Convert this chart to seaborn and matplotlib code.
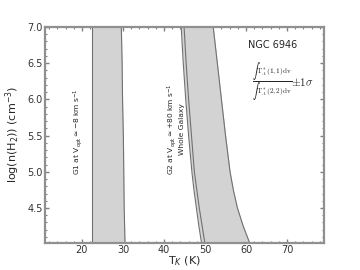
import matplotlib
matplotlib.use("Agg")
import matplotlib.pyplot as plt
import seaborn as sns
import numpy as np
import pandas as pd
from matplotlib.ticker import MultipleLocator

logn = [4.0, 4.25, 4.5, 4.75, 5.0, 5.5, 6.0, 6.5, 7.0]
g1_left = [22.4, 22.4, 22.4, 22.4, 22.4, 22.4, 22.4, 22.4, 22.4]
g1_right = [30.5, 30.4, 30.3, 30.25, 30.2, 30.1, 29.9, 29.8, 29.6]
g2_left = [49.2, 48.5, 47.9, 47.3, 46.8, 46.0, 45.3, 44.7, 44.2]
whole_left = [50.0, 49.3, 48.6, 48.0, 47.4, 46.7, 46.0, 45.4, 44.9]
g2_right = [61.0, 59.3, 57.9, 56.9, 56.1, 55.0, 54.0, 53.0, 52.0]

sns.set_style("ticks")
plt.rcParams['font.family'] = ['DejaVu Sans']
plt.rcParams['mathtext.fontset'] = 'dejavusans'

fig = plt.figure(figsize=(3.6, 2.7), dpi=100)
ax = fig.add_axes([0.125, 0.101, 0.775, 0.799])

fill = '#d3d3d3'
edge = '#707070'
ax.fill_betweenx(logn, g1_left, g1_right, color=fill, lw=0)
ax.fill_betweenx(logn, g2_left, g2_right, color=fill, lw=0)
ax.fill_betweenx(logn, whole_left, g2_right, color=fill, lw=0)

for name, xs in [("g1l", g1_left), ("g1r", g1_right), ("g2l", g2_left),
                 ("wl", whole_left), ("g2r", g2_right)]:
    df = pd.DataFrame({"T": xs, "n": logn})
    sns.lineplot(data=df, x="T", y="n", orient="y", ax=ax, color=edge, lw=0.8,
                 sort=False, estimator=None)

ax.set_xlim(11, 79)
ax.set_ylim(4.02, 7.0)
ax.set_xticks([20, 30, 40, 50, 60, 70])
ax.set_yticks([4.5, 5.0, 5.5, 6.0, 6.5, 7.0])
ax.set_yticklabels(['4.5', '5.0', '5.5', '6.0', '6.5', '7.0'])
ax.xaxis.set_minor_locator(MultipleLocator(2))
ax.yaxis.set_minor_locator(MultipleLocator(0.1))
ax.tick_params(which='both', direction='in', top=True, right=True, color='#808080',
               labelsize=7, pad=1.5, labelcolor='#333333')
ax.tick_params(which='major', length=3, width=1)
ax.tick_params(which='minor', length=1.5, width=0.8)
for s in ax.spines.values():
    s.set_color('#909090')
    s.set_linewidth(1.6)

ax.set_xlabel(r'T$_K$ (K)', fontsize=8, labelpad=0)
ax.set_ylabel(r'log(n(H$_2$)) (cm$^{-3}$)', fontsize=8, labelpad=4)

ax.text(19.0, 5.55, r'G1 at V$_{\rm opt}$$\simeq$$-$8 km s$^{-1}$', rotation=90,
        fontsize=5.4, ha='center', va='center')
ax.text(42.8, 5.59, 'G2 at V$_{\\rm opt}$$\\simeq$+80 km s$^{-1}$\nWhole Galaxy',
        rotation=90, fontsize=5.4, ha='center', va='center', linespacing=1.0)
ax.text(60.4, 6.75, 'NGC 6946', fontsize=7, ha='left', va='center')
ax.text(61.4, 6.24,
        r'$\dfrac{\int\mathrm{T}_A^*(1,1)\mathrm{dv}}{\int\mathrm{T}_A^*(2,2)\mathrm{dv}}$',
        fontsize=5.2, ha='left', va='center', math_fontfamily='cm')
ax.text(70.9, 6.24, r'$\pm1\sigma$', fontsize=8, ha='left', va='center',
        math_fontfamily='cm')

fig.savefig('out.png', dpi=100)
